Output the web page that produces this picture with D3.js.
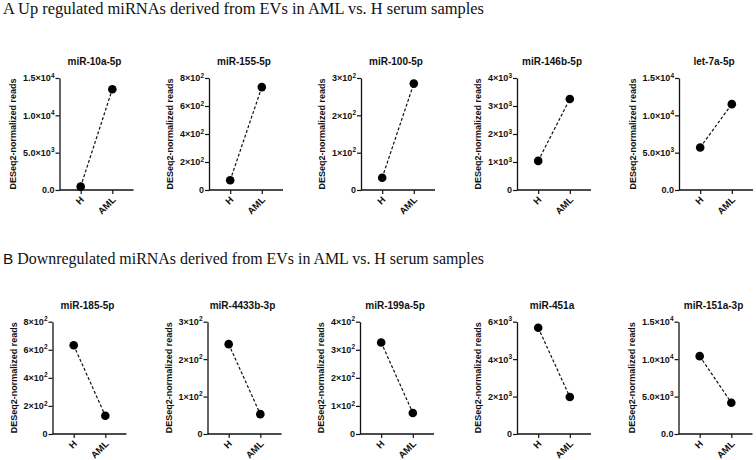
<!DOCTYPE html>
<html><head><meta charset="utf-8">
<script src="https://cdn.jsdelivr.net/npm/d3@7"></script>
<style>
body{margin:0;background:#fff;}
svg{display:block;}
</style></head>
<body>
<svg id="c" width="756" height="460"></svg>
<script>
// ---- data ----
const headingA = "A Up regulated miRNAs derived from EVs in AML vs. H serum samples";
const headingBLetter = "B";
const headingBRest = " Downregulated miRNAs derived from EVs in AML vs. H serum samples";
const groups = ["H", "AML"];
const yAxisTitle = "DESeq2-normalized reads";

const upTitles = ["miR-10a-5p", "miR-155-5p", "miR-100-5p", "miR-146b-5p", "let-7a-5p"];
const upH      = [450, 70, 33, 1040, 5700];
const upAML    = [13500, 735, 285, 3250, 11500];
const upMax    = [15000, 800, 300, 4000, 15000];
const upStep   = [5000, 200, 100, 1000, 5000];
const upTickLabels = [
  ["0.0", "5.0×10^3", "1.0×10^4", "1.5×10^4"],
  ["0", "2×10^2", "4×10^2", "6×10^2", "8×10^2"],
  ["0", "1×10^2", "2×10^2", "3×10^2"],
  ["0", "1×10^3", "2×10^3", "3×10^3", "4×10^3"],
  ["0.0", "5.0×10^3", "1.0×10^4", "1.5×10^4"]
];

const downTitles = ["miR-185-5p", "miR-4433b-3p", "miR-199a-5p", "miR-451a", "miR-151a-3p"];
const downH      = [632, 240, 326, 5680, 10400];
const downAML    = [130, 53, 75, 1980, 4180];
const downMax    = [800, 300, 400, 6000, 15000];
const downStep   = [200, 100, 100, 2000, 5000];
const downTickLabels = [
  ["0", "2×10^2", "4×10^2", "6×10^2", "8×10^2"],
  ["0", "1×10^2", "2×10^2", "3×10^2"],
  ["0", "1×10^2", "2×10^2", "3×10^2", "4×10^2"],
  ["0", "2×10^3", "4×10^3", "6×10^3"],
  ["0.0", "5.0×10^3", "1.0×10^4", "1.5×10^4"]
];

// ---- layout ----
const rows = [
  {titles: upTitles, h: upH, aml: upAML, max: upMax, step: upStep, labels: upTickLabels,
   axisX: [59.5, 209, 361, 517, 679], y0: 190, y1: 78, titleY: 65},
  {titles: downTitles, h: downH, aml: downAML, max: downMax, step: downStep, labels: downTickLabels,
   axisX: [52.5, 207.5, 360, 517, 678.5], y0: 434, y1: 321.7, titleY: 308.5}
];
const plotW = 74;
const sans = "'Liberation Sans', Arial, sans-serif";
const serif = "'Liberation Serif', 'Times New Roman', serif";

const svg = d3.select("#c");

svg.append("text").attr("x", 3).attr("y", 13.5)
  .attr("textLength", 481).attr("lengthAdjust", "spacingAndGlyphs")
  .style("font-family", serif).style("font-size", "16px").attr("fill", "#111")
  .text(headingA);
const hb = svg.append("text").attr("x", 3).attr("y", 263.5)
  .attr("textLength", 481).attr("lengthAdjust", "spacingAndGlyphs")
  .style("font-family", serif).style("font-size", "16px").attr("fill", "#111");
hb.append("tspan").style("font-family", sans).style("font-size", "15.5px").text(headingBLetter);
hb.append("tspan").text(headingBRest);

function setSupLabel(sel, label) {
  sel.text(null);
  const parts = label.split("^");
  sel.append("tspan").text(parts[0]);
  if (parts.length > 1) {
    sel.append("tspan").attr("dy", "-3.8").style("font-size", "6.5px").text(parts[1]);
  }
}

rows.forEach(row => {
  row.titles.forEach((title, i) => {
    const ax = row.axisX[i];
    const g = svg.append("g");
    const y = d3.scaleLinear().domain([0, row.max[i]]).range([row.y0, row.y1]);
    const x = d3.scalePoint().domain(groups).range([ax, ax + plotW]).padding(0.67);
    const tickVals = d3.range(0, row.max[i] + row.step[i] / 2, row.step[i]);

    // y axis
    const yg = g.append("g").attr("transform", `translate(${ax},0)`)
      .call(d3.axisLeft(y).tickValues(tickVals).tickSize(4).tickPadding(1).tickSizeOuter(0));
    yg.select(".domain").attr("stroke", "#111").attr("stroke-width", 1.3);
    yg.selectAll(".tick line").attr("stroke", "#111").attr("stroke-width", 1.2);
    yg.selectAll(".tick text")
      .style("font-family", sans).style("font-size", "9px").style("font-weight", "bold").attr("fill", "#111")
      .each(function(d, k) { setSupLabel(d3.select(this), row.labels[i][k]); });

    // x axis
    const xg = g.append("g").attr("transform", `translate(0,${row.y0})`)
      .call(d3.axisBottom(x).tickSize(4).tickSizeOuter(0).tickFormat(d => d));
    xg.select(".domain").attr("d", `M${ax},0H${ax + plotW}`).attr("stroke", "#111").attr("stroke-width", 1.3);
    xg.selectAll(".tick line").attr("stroke", "#111").attr("stroke-width", 1.2);
    xg.selectAll(".tick text")
      .style("font-family", sans).style("font-size", "9.5px").style("font-weight", "bold").attr("fill", "#111")
      .attr("text-anchor", "end").attr("y", 0).attr("dy", 0)
      .attr("transform", "translate(3.5,10.5) rotate(-45)");

    // y axis title
    const bb = yg.node().getBBox();
    const lx = ax + bb.x - 7;
    g.append("text")
      .attr("transform", `translate(${lx},${(row.y0 + row.y1) / 2}) rotate(-90)`)
      .attr("text-anchor", "middle")
      .style("font-family", sans).style("font-size", "9px").style("font-weight", "bold").attr("fill", "#111")
      .text(yAxisTitle);

    // panel title
    g.append("text").attr("x", ax + 35).attr("y", row.titleY).attr("text-anchor", "middle")
      .style("font-family", sans).style("font-size", "10px").style("font-weight", "bold").attr("fill", "#111")
      .text(title);

    // line + points
    const pts = [{g: "H", v: row.h[i]}, {g: "AML", v: row.aml[i]}];
    g.append("path").datum(pts)
      .attr("d", d3.line().x(d => x(d.g)).y(d => y(d.v)))
      .attr("fill", "none").attr("stroke", "#111").attr("stroke-width", 1.2).attr("stroke-dasharray", "3,2");
    g.selectAll("circle.pt").data(pts).join("circle").attr("class", "pt")
      .attr("cx", d => x(d.g)).attr("cy", d => y(d.v)).attr("r", 4.3).attr("fill", "#000");
  });
});
</script>
</body></html>
